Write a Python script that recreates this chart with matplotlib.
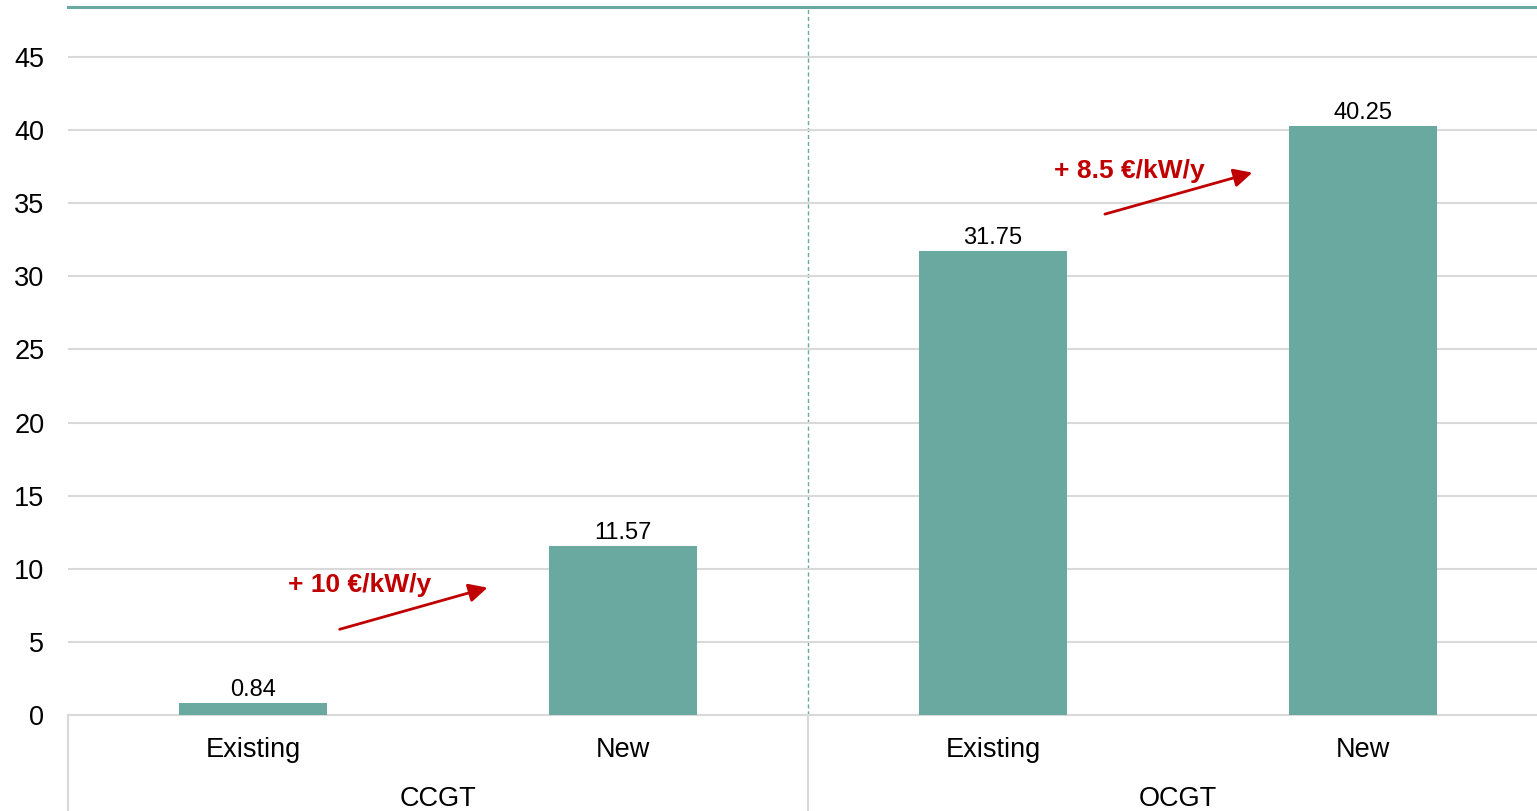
import numpy as np
import matplotlib.pyplot as plt
import matplotlib.transforms as mtransforms

plt.rcParams['font.family'] = ['Liberation Sans', 'DejaVu Sans']

# data
groups = ['CCGT', 'OCGT']
types = ['Existing', 'New', 'Existing', 'New']
values = [0.84, 11.57, 31.75, 40.25]
deltas = ['+ 10 €/kW/y', '+ 8.5 €/kW/y']

bar_color = '#6aa9a0'
red = '#c00000'
grid_color = '#d9d9d9'

fig = plt.figure(figsize=(15.37, 8.11), dpi=100)
ax = fig.add_axes([68 / 1537, 96 / 811, 1 - 68 / 1537, (715 - 6.5) / 811])

x = np.arange(len(values))
ax.bar(x, values, width=0.4, color=bar_color, zorder=3)
for xi, v in zip(x, values):
    ax.text(xi, v + 0.15, '%.2f' % v, ha='center', va='bottom', fontsize=17, color='#000000')

ax.set_xlim(-0.5, 3.47)
ax.set_ylim(0, 48.45)
ax.set_yticks(np.arange(0, 46, 5))
ax.yaxis.grid(True, color=grid_color, linewidth=1.5, zorder=0)
ax.tick_params(axis='y', length=0, pad=17, labelsize=19.5)
ax.set_xticks(x)
ax.set_xticklabels(types)
ax.tick_params(axis='x', length=0, pad=16, labelsize=19.5)

for s in ['left', 'right']:
    ax.spines[s].set_visible(False)
ax.spines['bottom'].set_color(grid_color)
ax.spines['bottom'].set_linewidth(1.5)
ax.spines['top'].set_color(bar_color)
ax.spines['top'].set_linewidth(2.2)

# group separator
ax.axvline(1.5, color=bar_color, linestyle=(0, (3, 2)), linewidth=1, zorder=1)
trans = mtransforms.blended_transform_factory(ax.transData, ax.transAxes)
for xv in [-0.5, 1.5]:
    ax.plot([xv, xv], [0, -0.14], transform=trans, color=grid_color, linewidth=1.5, clip_on=False)

# group labels
for i, g in enumerate(groups):
    ax.text(0.5 + 2 * i, -0.118, g, transform=trans, ha='center', va='center', fontsize=19.5)

# change arrows
ax.annotate('', xy=(0.641, 8.76), xytext=(0.227, 5.81),
            arrowprops=dict(arrowstyle='-|>', color=red, lw=2, mutation_scale=28))
ax.text(0.289, 8.9, deltas[0], color=red, fontsize=19, fontweight='bold', ha='center', va='center')
ax.annotate('', xy=(2.708, 37.14), xytext=(2.295, 34.2),
            arrowprops=dict(arrowstyle='-|>', color=red, lw=2, mutation_scale=28))
ax.text(2.368, 37.2, deltas[1], color=red, fontsize=19, fontweight='bold', ha='center', va='center')

fig.savefig('out.png', dpi=100)
